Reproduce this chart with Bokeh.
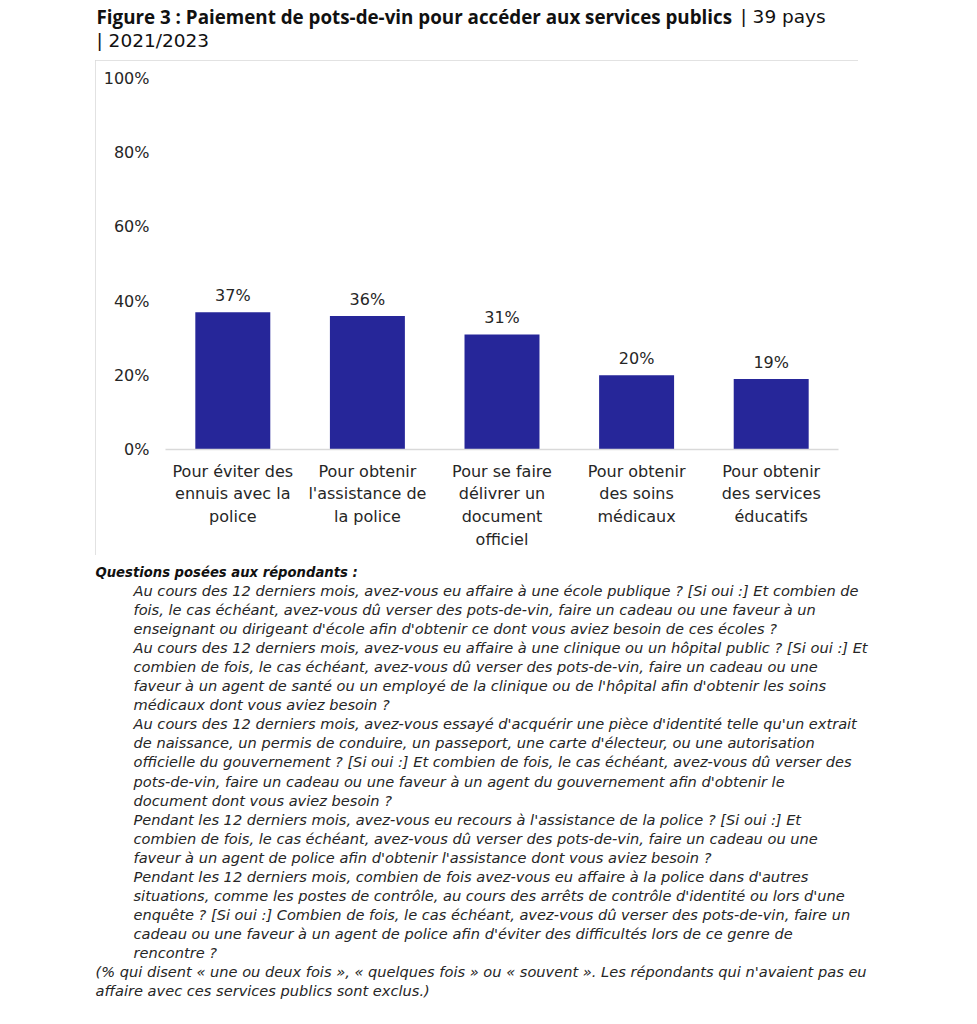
from bokeh.plotting import figure
from bokeh.layouts import column
from bokeh.models import ColumnDataSource, LabelSet, Label, FactorRange, Range1d, PrintfTickFormatter, FixedTicker
from bokeh.core.properties import value
from bokeh.embed import file_html
from bokeh.resources import INLINE

# ---- data ----
categories = [
    "Pour éviter des\nennuis avec la\npolice",
    "Pour obtenir\nl'assistance de\nla police",
    "Pour se faire\ndélivrer un\ndocument\nofficiel",
    "Pour obtenir\ndes soins\nmédicaux",
    "Pour obtenir\ndes services\néducatifs",
]
values = [37, 36, 31, 20, 19]
value_labels = ["37%", "36%", "31%", "20%", "19%"]
y_ticks = [0, 20, 40, 60, 80, 100]

title_bold = "Figure 3 : Paiement de pots-de-vin pour accéder aux services publics"
title_rest_1 = "| 39 pays"
title_rest_2 = "| 2021/2023"

notes_heading = "Questions posées aux répondants :"
notes_lines = [
    "Au cours des 12 derniers mois, avez-vous eu affaire à une école publique ? [Si oui :] Et combien de",
    "fois, le cas échéant, avez-vous dû verser des pots-de-vin, faire un cadeau ou une faveur à un",
    "enseignant ou dirigeant d'école afin d'obtenir ce dont vous aviez besoin de ces écoles ?",
    "Au cours des 12 derniers mois, avez-vous eu affaire à une clinique ou un hôpital public ? [Si oui :] Et",
    "combien de fois, le cas échéant, avez-vous dû verser des pots-de-vin, faire un cadeau ou une",
    "faveur à un agent de santé ou un employé de la clinique ou de l'hôpital afin d'obtenir les soins",
    "médicaux dont vous aviez besoin ?",
    "Au cours des 12 derniers mois, avez-vous essayé d'acquérir une pièce d'identité telle qu'un extrait",
    "de naissance, un permis de conduire, un passeport, une carte d'électeur, ou une autorisation",
    "officielle du gouvernement ? [Si oui :] Et combien de fois, le cas échéant, avez-vous dû verser des",
    "pots-de-vin, faire un cadeau ou une faveur à un agent du gouvernement afin d'obtenir le",
    "document dont vous aviez besoin ?",
    "Pendant les 12 derniers mois, avez-vous eu recours à l'assistance de la police ? [Si oui :] Et",
    "combien de fois, le cas échéant, avez-vous dû verser des pots-de-vin, faire un cadeau ou une",
    "faveur à un agent de police afin d'obtenir l'assistance dont vous aviez besoin ?",
    "Pendant les 12 derniers mois, combien de fois avez-vous eu affaire à la police dans d'autres",
    "situations, comme les postes de contrôle, au cours des arrêts de contrôle d'identité ou lors d'une",
    "enquête ? [Si oui :] Combien de fois, le cas échéant, avez-vous dû verser des pots-de-vin, faire un",
    "cadeau ou une faveur à un agent de police afin d'éviter des difficultés lors de ce genre de",
    "rencontre ?",
]
footer_lines = [
    "(% qui disent « une ou deux fois », « quelques fois » ou « souvent ». Les répondants qui n'avaient pas eu",
    "affaire avec ces services publics sont exclus.)",
]

TITLE_BOLD_FONT = "Open Sans"
FONT = "DejaVu Sans"
BAR = "#262699"
TXT = "#262626"
W = 970
BL, BR = 70, 20  # inner borders (aligned across the column by Bokeh)


def text_panel(height, y_top):
    f = figure(width=W, height=height,
               x_range=Range1d(BL, W - BR), y_range=Range1d(y_top + height, y_top),
               x_axis_type=None, y_axis_type=None, output_backend="svg", toolbar_location=None,
               min_border_left=BL, min_border_right=BR, min_border_top=0, min_border_bottom=0)
    f.outline_line_color = None
    f.grid.grid_line_color = None
    return f


# ---- title panel (page y 0..60) ----
tp = text_panel(60, 0)
tp.add_layout(Label(x=96, y=16, text=title_bold, text_font=TITLE_BOLD_FONT, text_font_style="bold",
                    text_font_size="18.8px", text_color="#111111", text_baseline="middle"))
tp.add_layout(Label(x=740, y=16, text=title_rest_1, text_font=FONT,
                    text_font_size="18.5px", text_color="#111111", text_baseline="middle"))
tp.add_layout(Label(x=96, y=40, text=title_rest_2, text_font=FONT,
                    text_font_size="18.5px", text_color="#111111", text_baseline="middle"))

# ---- chart (page x 95..858, y 60..555) ----
source = ColumnDataSource(dict(cat=categories, val=values, lab=value_labels))
p = figure(
    x_range=FactorRange(*categories), y_range=Range1d(0, 100),
    width=763, height=495, output_backend="svg", toolbar_location=None,
    min_border_left=BL, min_border_right=BR, min_border_top=18, min_border_bottom=106,
    margin=(0, 0, 0, 95),
    styles={"outline": "1.5px solid #d9d9d9", "outline-offset": "-1.5px"},
)
p.outline_line_color = None
p.grid.grid_line_color = None
p.background_fill_color = "white"

p.vbar(x="cat", top="val", width=0.557, source=source, fill_color=BAR, line_color=None)

p.add_layout(LabelSet(x="cat", y="val", text="lab", source=source, y_offset=7,
                      text_align="center", text_baseline="bottom",
                      text_font=value(FONT), text_font_size="16px", text_color=TXT))

p.yaxis.ticker = FixedTicker(ticks=y_ticks)
p.yaxis.formatter = PrintfTickFormatter(format="%d%%")
p.yaxis.axis_line_color = None
p.yaxis.major_tick_line_color = None
p.yaxis.minor_tick_line_color = None
p.yaxis.major_label_standoff = 10
p.yaxis.major_label_text_font = FONT
p.yaxis.major_label_text_font_size = "16px"
p.yaxis.major_label_text_color = TXT

p.xaxis.axis_line_color = "#d9d9d9"
p.xaxis.axis_line_width = 1.5
p.xaxis.major_tick_line_color = None
p.xaxis.minor_tick_line_color = None
p.xaxis.major_label_standoff = 6
p.xaxis.major_label_text_font = FONT
p.xaxis.major_label_text_font_size = "16px"
p.xaxis.major_label_text_color = TXT
p.xaxis.major_label_text_line_height = 1.2

# ---- notes panel (page y 555..1020) ----
npn = text_panel(465, 555)
npn.add_layout(Label(x=95, y=572, text=notes_heading, text_font=FONT, text_font_style="bold italic",
                     text_font_size="13.2px", text_color="#111111", text_baseline="middle"))
for i, line in enumerate(notes_lines):
    npn.add_layout(Label(x=133, y=590 + i * 19.05, text=line, text_font=FONT, text_font_style="italic",
                         text_font_size="14.6px", text_color=TXT, text_baseline="middle"))
for j, line in enumerate(footer_lines):
    npn.add_layout(Label(x=95, y=971 + j * 19.05, text=line, text_font=FONT, text_font_style="italic",
                         text_font_size="14.6px", text_color=TXT, text_baseline="middle"))

layout = column(tp, p, npn, spacing=0)
open("out.html", "w").write(file_html(layout, INLINE))
